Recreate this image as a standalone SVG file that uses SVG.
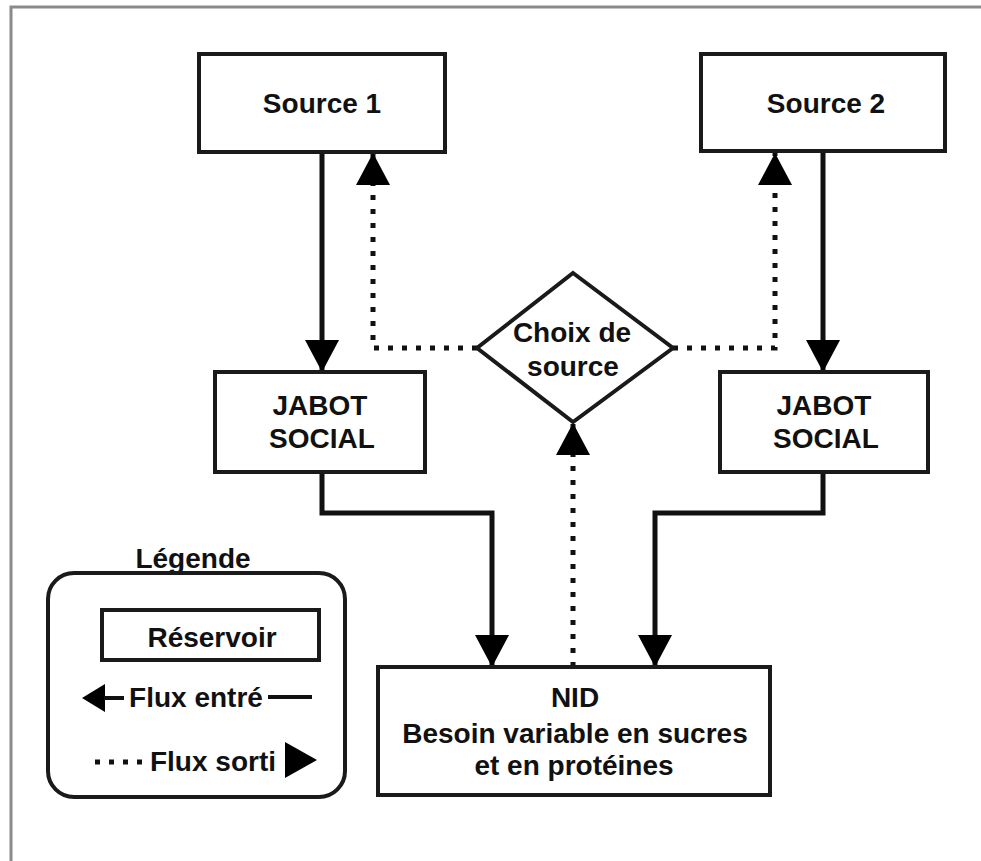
<svg xmlns="http://www.w3.org/2000/svg" width="981" height="861" viewBox="0 0 981 861">
<defs>
<style>
.box{fill:#fff;stroke:#1a1a1a;stroke-width:4}
.t{font-family:"Liberation Sans",Arial,sans-serif;font-weight:bold;font-size:28px;fill:#111;text-anchor:middle}
.solid{fill:none;stroke:#111;stroke-width:5}
.dot{fill:none;stroke:#111;stroke-width:5;stroke-dasharray:5 9}
.frame{fill:none;stroke:#8a8a8a;stroke-width:3}
</style>
<marker id="arr" viewBox="0 0 32 34" refX="32" refY="17" markerWidth="32" markerHeight="34" markerUnits="userSpaceOnUse" orient="auto">
<path d="M0,0 L32,17 L0,34 Z" fill="#000"/>
</marker>
</defs>
<rect width="981" height="861" fill="#fff"/>
<path class="frame" d="M11,861 V7 H981"/>
<g id="connectors">
<path class="solid" d="M322,152 V372" marker-end="url(#arr)"/>
<path class="solid" d="M823,151 V372" marker-end="url(#arr)"/>
<path class="dot" d="M477,348 H373 V153" marker-end="url(#arr)"/>
<path class="dot" d="M673,348 H775 V153" marker-end="url(#arr)"/>
<path class="dot" d="M573,667 V423" marker-end="url(#arr)"/>
<path class="solid" d="M322,472 V513 H492 V667" marker-end="url(#arr)"/>
<path class="solid" d="M823,472 V513 H655 V667" marker-end="url(#arr)"/>
</g>
<g id="source1">
<rect class="box" x="199" y="54" width="246" height="98"/>
<text class="t" x="322" y="113">Source 1</text>
</g>
<g id="source2">
<rect class="box" x="701" y="54" width="244" height="97"/>
<text class="t" x="826" y="113">Source 2</text>
</g>
<g id="jabot1">
<rect class="box" x="215" y="372" width="210" height="100"/>
<text class="t" x="320" y="415">JABOT</text>
<text class="t" x="322" y="448">SOCIAL</text>
</g>
<g id="jabot2">
<rect class="box" x="720" y="372" width="208" height="100"/>
<text class="t" x="824" y="415">JABOT</text>
<text class="t" x="826" y="448">SOCIAL</text>
</g>
<g id="choix">
<polygon points="573,273 673,348 573,422 477,348" fill="#fff" stroke="#1a1a1a" stroke-width="4"/>
<text class="t" x="572" y="342">Choix de</text>
<text class="t" x="573" y="376">source</text>
</g>
<g id="nid">
<rect class="box" x="378" y="667" width="392" height="128"/>
<text class="t" x="575" y="707">NID</text>
<text class="t" x="575" y="743">Besoin variable en sucres</text>
<text class="t" x="574" y="775">et en protéines</text>
</g>
<g id="legende">
<text class="t" x="193" y="568">Légende</text>
<rect x="48" y="573" width="297" height="224" rx="26" fill="#fff" stroke="#1a1a1a" stroke-width="4"/>
<rect class="box" x="102" y="610" width="217" height="50"/>
<text class="t" x="212" y="647">Réservoir</text>
<polygon points="82,698 105,684 105,712" fill="#000"/>
<line x1="104" y1="698" x2="124" y2="698" stroke="#111" stroke-width="4"/>
<text class="t" x="196" y="707">Flux entré</text>
<line x1="268" y1="697" x2="312" y2="697" stroke="#111" stroke-width="4"/>
<line x1="95" y1="762" x2="142" y2="762" class="dot"/>
<text class="t" x="213" y="771">Flux sorti</text>
<polygon points="285,742 317,760 285,778" fill="#000"/>
</g>
</svg>
